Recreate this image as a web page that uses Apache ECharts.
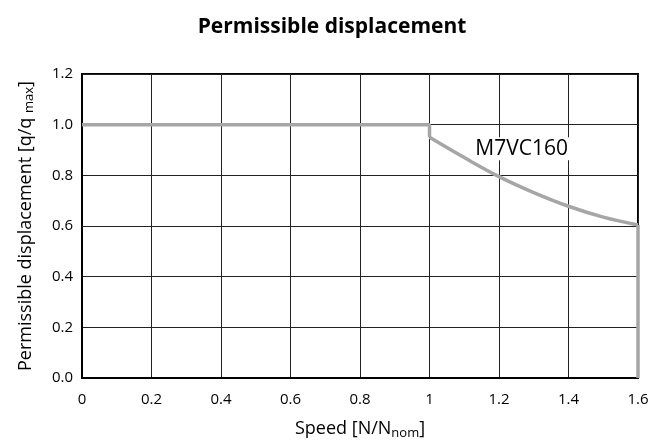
<!DOCTYPE html>
<html><head><meta charset="utf-8">
<script src="https://cdn.jsdelivr.net/npm/echarts@6/dist/echarts.min.js"></script>
<style>html,body{margin:0;padding:0;background:#fff}#c{width:664px;height:445px}</style>
</head><body><div id="c"></div>
<script>
const xTicks = [0, 0.2, 0.4, 0.6, 0.8, 1, 1.2, 1.4, 1.6];
const yTicks = [0, 0.2, 0.4, 0.6, 0.8, 1.0, 1.2];
const flatPart = [[0, 1], [1, 1], [1, 0.95]];
const curveX = [1, 1.1, 1.2, 1.3, 1.4, 1.5, 1.6];
const curveY = [0.95, 0.87, 0.795, 0.732, 0.678, 0.635, 0.604];
const dropPart = [[1.6, 0.604], [1.6, 0]];
const curveLabel = 'M7VC160';
const labelPos = [1.265, 0.905];

const F = '"Open Sans", "Noto Sans", sans-serif';
const lineColor = '#a6a6a6';
const chart = echarts.init(document.getElementById('c'));
const lineStyle = {color: lineColor, width: 3.5};
chart.setOption({
  animation: false,
  title: {text: 'Permissible displacement', left: 'center', top: 12,
    textStyle: {fontFamily: F, fontWeight: 'bold', fontSize: 21, color: '#000'}},
  grid: {left: 82, right: 26, top: 74, bottom: 63, show: true, borderColor: '#000', borderWidth: 2},
  xAxis: {type: 'value', min: 0, max: 1.6, interval: 0.2,
    name: '{a|Speed [N/N}{s|nom}{a|]}', nameLocation: 'middle', nameGap: 40,
    nameTextStyle: {rich: {a: {fontFamily: F, fontSize: 18, color: '#000'}, s: {fontFamily: F, fontSize: 13, color: '#000', padding: [9, 0, 0, 0]}}},
    axisLine: {lineStyle: {color: '#000', width: 2}}, axisTick: {show: false},
    axisLabel: {fontFamily: F, fontSize: 15, color: '#000', margin: 14,
      formatter: v => { const t = xTicks.find(x => Math.abs(x - v) < 1e-6); return t === undefined ? '' : String(t); }},
    splitLine: {lineStyle: {color: '#222', width: 1}}},
  yAxis: {type: 'value', min: 0, max: 1.2, interval: 0.2,
    name: '{a|Permissible displacement [q/q }{s|max}{a|]}', nameLocation: 'middle', nameGap: 46, nameRotate: 90,
    nameTextStyle: {rich: {a: {fontFamily: F, fontSize: 18, color: '#000'}, s: {fontFamily: F, fontSize: 13, color: '#000', padding: [8, 0, 0, 0]}}},
    axisLine: {lineStyle: {color: '#000', width: 2}}, axisTick: {show: false},
    axisLabel: {fontFamily: F, fontSize: 15, color: '#000', margin: 9,
      formatter: v => { const t = yTicks.find(y => Math.abs(y - v) < 1e-6); return t === undefined ? '' : t.toFixed(1); }},
    splitLine: {lineStyle: {color: '#222', width: 1}}},
  series: [
    {type: 'line', data: flatPart, symbol: 'none', lineStyle: lineStyle, z: 3},
    {type: 'line', data: curveX.map((x, i) => [x, curveY[i]]), smooth: 0.4, symbol: 'none', lineStyle: lineStyle, z: 3},
    {type: 'line', data: dropPart, symbol: 'none', lineStyle: lineStyle, z: 3},
    {type: 'scatter', data: [labelPos], symbolSize: 0, z: 5, itemStyle: {color: '#000', opacity: 1},
      label: {show: true, position: 'inside', formatter: curveLabel, fontFamily: F, fontSize: 21, color: '#000',
        textBorderWidth: 0, backgroundColor: '#fff', padding: [1, 3]}}
  ]
});
</script></body></html>
